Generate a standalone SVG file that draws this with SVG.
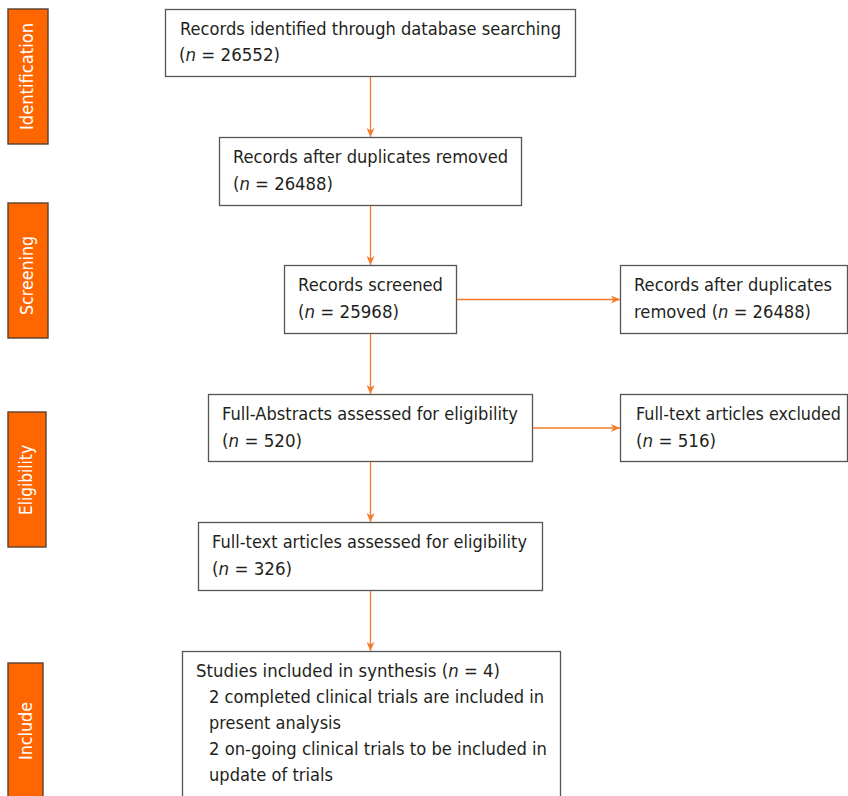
<svg xmlns="http://www.w3.org/2000/svg" width="848" height="796" viewBox="0 0 848 796">
<defs>
<marker id="ah" markerUnits="userSpaceOnUse" markerWidth="10" markerHeight="8" refX="9" refY="4" orient="auto">
<path d="M0,0 L9,4 L0,8 L2.5,4 Z" fill="#F47B2C"/>
</marker>
<style>
.box{fill:#fff;stroke:#555;stroke-width:1.3}
.lab{fill:#FF6600;stroke:#5b4030;stroke-width:1.4}
.t{font-family:"DejaVu Sans",Verdana,sans-serif;font-size:18px;fill:#231f20}
.lt{font-family:"DejaVu Sans",Verdana,sans-serif;font-size:17.5px;fill:#fff}
.c{stroke:#F47B2C;stroke-width:1.3;fill:none;marker-end:url(#ah)}
</style>
</defs>
<rect width="848" height="796" fill="#fff"/>

<g id="stage-identification">
<rect class="lab" x="8" y="9" width="40" height="135"/>
<text class="lt" transform="translate(33,76.5) rotate(-90)" text-anchor="middle" textLength="107" lengthAdjust="spacingAndGlyphs">Identification</text>
</g>
<g id="stage-screening">
<rect class="lab" x="8" y="203" width="40" height="135"/>
<text class="lt" transform="translate(33,275.5) rotate(-90)" text-anchor="middle" textLength="79" lengthAdjust="spacingAndGlyphs">Screening</text>
</g>
<g id="stage-eligibility">
<rect class="lab" x="8" y="412" width="38" height="135"/>
<text class="lt" transform="translate(32,480) rotate(-90)" text-anchor="middle" textLength="70" lengthAdjust="spacingAndGlyphs">Eligibility</text>
</g>
<g id="stage-include">
<rect class="lab" x="8" y="663" width="35" height="140"/>
<text class="lt" transform="translate(32,731) rotate(-90)" text-anchor="middle" textLength="58" lengthAdjust="spacingAndGlyphs">Include</text>
</g>

<g id="n-identified">
<rect class="box" x="165.5" y="9.5" width="410" height="67"/>
<text class="t" x="180" y="35" textLength="381" lengthAdjust="spacingAndGlyphs">Records identified through database searching</text>
<text class="t" x="179" y="61" textLength="101" lengthAdjust="spacingAndGlyphs">(<tspan font-style="italic">n</tspan> = 26552)</text>
</g>
<g id="n-dedup">
<rect class="box" x="219.5" y="137.5" width="302" height="68"/>
<text class="t" x="233" y="163" textLength="275" lengthAdjust="spacingAndGlyphs">Records after duplicates removed</text>
<text class="t" x="233" y="190" textLength="100" lengthAdjust="spacingAndGlyphs">(<tspan font-style="italic">n</tspan> = 26488)</text>
</g>
<g id="n-screened">
<rect class="box" x="284.5" y="265.5" width="172" height="68"/>
<text class="t" x="298" y="291" textLength="145" lengthAdjust="spacingAndGlyphs">Records screened</text>
<text class="t" x="298" y="318" textLength="101" lengthAdjust="spacingAndGlyphs">(<tspan font-style="italic">n</tspan> = 25968)</text>
</g>
<g id="n-dedup-right">
<rect class="box" x="620.5" y="265.5" width="227" height="68"/>
<text class="t" x="634" y="291" textLength="198" lengthAdjust="spacingAndGlyphs">Records after duplicates</text>
<text class="t" x="634" y="318" textLength="177" lengthAdjust="spacingAndGlyphs">removed (<tspan font-style="italic">n</tspan> = 26488)</text>
</g>
<g id="n-abstracts">
<rect class="box" x="208.5" y="394.5" width="324" height="67"/>
<text class="t" x="222" y="420" textLength="296" lengthAdjust="spacingAndGlyphs">Full-Abstracts assessed for eligibility</text>
<text class="t" x="222" y="447" textLength="80" lengthAdjust="spacingAndGlyphs">(<tspan font-style="italic">n</tspan> = 520)</text>
</g>
<g id="n-excluded">
<rect class="box" x="620.5" y="394.5" width="227" height="67"/>
<text class="t" x="636" y="420" textLength="205" lengthAdjust="spacingAndGlyphs">Full-text articles excluded</text>
<text class="t" x="636" y="447" textLength="80" lengthAdjust="spacingAndGlyphs">(<tspan font-style="italic">n</tspan> = 516)</text>
</g>
<g id="n-fulltext">
<rect class="box" x="198.5" y="522.5" width="344" height="68"/>
<text class="t" x="212" y="548" textLength="315" lengthAdjust="spacingAndGlyphs">Full-text articles assessed for eligibility</text>
<text class="t" x="212" y="575" textLength="80" lengthAdjust="spacingAndGlyphs">(<tspan font-style="italic">n</tspan> = 326)</text>
</g>
<g id="n-included">
<rect class="box" x="182.5" y="651.5" width="378" height="160"/>
<text class="t" x="196" y="677" textLength="304" lengthAdjust="spacingAndGlyphs">Studies included in synthesis (<tspan font-style="italic">n</tspan> = 4)</text>
<text class="t" x="209" y="703" textLength="335" lengthAdjust="spacingAndGlyphs">2 completed clinical trials are included in</text>
<text class="t" x="209" y="729" textLength="132" lengthAdjust="spacingAndGlyphs">present analysis</text>
<text class="t" x="209" y="755" textLength="338" lengthAdjust="spacingAndGlyphs">2 on-going clinical trials to be included in</text>
<text class="t" x="209" y="781" textLength="124" lengthAdjust="spacingAndGlyphs">update of trials</text>
</g>

<g id="connectors">
<line class="c" x1="370.5" y1="77" x2="370.5" y2="137"/>
<line class="c" x1="370.5" y1="206" x2="370.5" y2="265"/>
<line class="c" x1="370.5" y1="334" x2="370.5" y2="394"/>
<line class="c" x1="370.5" y1="462" x2="370.5" y2="522"/>
<line class="c" x1="370.5" y1="591" x2="370.5" y2="651"/>
<line class="c" x1="457" y1="299.5" x2="620" y2="299.5"/>
<line class="c" x1="533" y1="428" x2="620" y2="428"/>
</g>
</svg>
